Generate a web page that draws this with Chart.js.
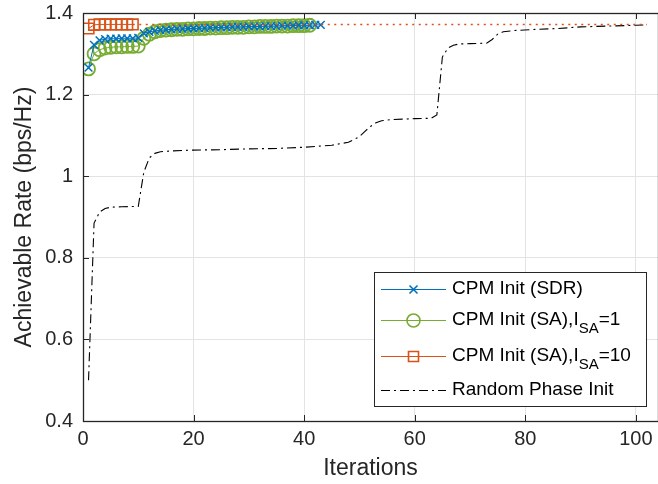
<!DOCTYPE html>
<html>
<head>
<meta charset="utf-8">
<script src="https://cdn.jsdelivr.net/npm/chart.js@4.4.1/dist/chart.umd.min.js"></script>
<style>
  html, body { margin: 0; padding: 0; background: #fff; }
  canvas { display: block; }
</style>
</head>
<body>
<canvas id="rateChart" width="658" height="484"></canvas>
<script>
// achievable rate per iteration
const sdrRate = [1.266, 1.322, 1.333, 1.336, 1.337, 1.337, 1.338, 1.338, 1.338, 1.339,
  1.350, 1.354, 1.356, 1.358, 1.359, 1.360, 1.361, 1.361, 1.362, 1.362,
  1.363, 1.363, 1.364, 1.364, 1.365, 1.365, 1.366, 1.366, 1.366, 1.367,
  1.367, 1.367, 1.368, 1.368, 1.368, 1.369, 1.369, 1.369, 1.370, 1.370,
  1.370, 1.371, 1.371];
const sa1Rate = [1.263, 1.300, 1.310, 1.314, 1.316, 1.317, 1.317, 1.318, 1.318, 1.319,
  1.338, 1.348, 1.354, 1.357, 1.358, 1.359, 1.360, 1.360, 1.361, 1.361,
  1.362, 1.362, 1.363, 1.363, 1.364, 1.364, 1.365, 1.365, 1.365, 1.366,
  1.366, 1.367, 1.367, 1.367, 1.368, 1.368, 1.368, 1.369, 1.369, 1.369,
  1.370];
const sa10Rate = [1.362, 1.371, 1.372, 1.372, 1.372, 1.372, 1.372, 1.372, 1.372];
const sa10LimitIter = [9, 102];
const sa10LimitRate = [1.372, 1.372];
const randomIter = [1, 2, 3, 4, 5, 7, 10, 11, 12, 13, 14, 16, 20, 25, 30, 35, 40, 45, 48, 50,
  51, 52, 53, 54, 56, 60, 63, 64, 65, 66, 67, 68, 70, 73, 74, 75, 76, 78, 82, 86,
  90, 95, 100, 102];
const randomRate = [0.500, 0.885, 0.912, 0.921, 0.924, 0.925, 0.926, 1.010, 1.045, 1.056,
  1.060, 1.062, 1.064, 1.065, 1.067, 1.068, 1.071, 1.076, 1.083, 1.097,
  1.110, 1.122, 1.131, 1.136, 1.139, 1.141, 1.142, 1.150, 1.292, 1.314,
  1.321, 1.324, 1.325, 1.326, 1.335, 1.348, 1.354, 1.357, 1.360, 1.362,
  1.366, 1.368, 1.370, 1.371];
const xTicks = [0, 20, 40, 60, 80, 100];
const yTicks = [0.4, 0.6, 0.8, 1, 1.2, 1.4];

const legendLabels = [
  ['CPM Init (SDR)'],
  ['CPM Init (SA),I', 'SA', '=1'],
  ['CPM Init (SA),I', 'SA', '=10'],
  ['Random Phase Init']
];

const BLUE = '#0072BD', GREEN = '#77AC30', RED = '#D95319';
const FONT = "'Liberation Sans', Arial, Helvetica, sans-serif";

const byIteration = rates => rates.map((r, i) => ({ x: i + 1, y: r }));
const pairUp = (xs, ys) => ys.map((r, i) => ({ x: xs[i], y: r }));

// inward ticks + box, like a matlab axes
const axisFrame = {
  id: 'axisFrame',
  afterDatasetsDraw(chart) {
    const { ctx, chartArea: a, scales: { x, y } } = chart;
    ctx.save();
    ctx.strokeStyle = '#262626';
    ctx.lineWidth = 1;
    ctx.beginPath();
    xTicks.forEach(v => {
      const px = Math.round(x.getPixelForValue(v)) + 0.5;
      ctx.moveTo(px, a.bottom); ctx.lineTo(px, a.bottom - 6);
      ctx.moveTo(px, a.top); ctx.lineTo(px, a.top + 6);
    });
    yTicks.forEach(v => {
      const py = Math.round(y.getPixelForValue(v)) + 0.5;
      ctx.moveTo(a.left, py); ctx.lineTo(a.left + 6, py);
    });
    ctx.stroke();
    ctx.lineWidth = 1.3;
    ctx.strokeRect(a.left + 0.5, a.top + 0.5, a.right - a.left, a.bottom - a.top);
    ctx.restore();
  }
};

function drawMarker(ctx, kind, cx, cy) {
  ctx.beginPath();
  if (kind === 'cross') {
    ctx.moveTo(cx - 4, cy - 4); ctx.lineTo(cx + 4, cy + 4);
    ctx.moveTo(cx - 4, cy + 4); ctx.lineTo(cx + 4, cy - 4);
  } else if (kind === 'circle') {
    ctx.arc(cx, cy, 6.5, 0, Math.PI * 2);
  } else if (kind === 'square') {
    ctx.rect(cx - 5, cy - 5, 10, 10);
  }
  ctx.stroke();
}

const matlabLegend = {
  id: 'matlabLegend',
  afterDraw(chart) {
    const ctx = chart.ctx;
    const box = { x: 374.5, y: 272.5, w: 272, h: 134 };
    const rows = [289, 320, 356, 390];
    const styles = [
      { color: BLUE, dash: [], marker: 'cross' },
      { color: GREEN, dash: [], marker: 'circle' },
      { color: RED, dash: [], marker: 'square' },
      { color: '#000', dash: [9, 4, 2, 4], marker: null }
    ];
    ctx.save();
    ctx.fillStyle = '#fff';
    ctx.fillRect(box.x, box.y, box.w, box.h);
    ctx.strokeStyle = '#262626';
    ctx.lineWidth = 1;
    ctx.strokeRect(box.x, box.y, box.w, box.h);

    legendLabels.forEach((parts, i) => {
      const yy = rows[i];
      const st = styles[i];
      ctx.strokeStyle = st.color;
      ctx.lineWidth = 1.2;
      ctx.setLineDash(st.dash);
      ctx.beginPath();
      ctx.moveTo(381, yy + 0.5); ctx.lineTo(446, yy + 0.5);
      ctx.stroke();
      ctx.setLineDash([]);
      ctx.lineWidth = 1.6;
      if (st.marker) drawMarker(ctx, st.marker, 413.5, yy + 0.5);

      ctx.fillStyle = '#000';
      ctx.textBaseline = 'middle';
      ctx.textAlign = 'left';
      let tx = 452;
      ctx.font = '19px ' + FONT;
      ctx.fillText(parts[0], tx, yy);
      tx += ctx.measureText(parts[0]).width;
      if (parts.length > 1) {
        ctx.font = '15px ' + FONT;
        ctx.fillText(parts[1], tx, yy + 9);
        tx += ctx.measureText(parts[1]).width;
        ctx.font = '19px ' + FONT;
        ctx.fillText(parts[2], tx, yy);
      }
    });
    ctx.restore();
  }
};

const noPadding = axis => {
  axis.paddingLeft = 0; axis.paddingRight = 0;
  axis.paddingTop = 0; axis.paddingBottom = 0;
};

new Chart(document.getElementById('rateChart'), {
  type: 'line',
  data: {
    datasets: [
      {
        label: 'CPM Init (SA), I_SA=10 limit',
        data: pairUp(sa10LimitIter, sa10LimitRate),
        borderColor: RED, borderWidth: 1.5, borderDash: [2, 4.5],
        pointRadius: 0
      },
      {
        label: 'CPM Init (SDR)',
        data: byIteration(sdrRate),
        borderColor: BLUE, borderWidth: 1,
        pointStyle: 'crossRot', pointRadius: 5.5, pointBorderWidth: 1.5,
        pointBorderColor: BLUE, pointBackgroundColor: BLUE
      },
      {
        label: 'CPM Init (SA), I_SA=1',
        data: byIteration(sa1Rate),
        borderColor: GREEN, borderWidth: 1,
        pointStyle: 'circle', pointRadius: 6.5, pointBorderWidth: 1.8,
        pointBorderColor: GREEN, pointBackgroundColor: 'rgba(0,0,0,0)'
      },
      {
        label: 'CPM Init (SA), I_SA=10',
        data: byIteration(sa10Rate),
        borderColor: RED, borderWidth: 1,
        pointStyle: 'rect', pointRadius: 7.5, pointBorderWidth: 1.6,
        pointBorderColor: RED, pointBackgroundColor: 'rgba(0,0,0,0)'
      },
      {
        label: 'Random Phase Init',
        data: pairUp(randomIter, randomRate),
        borderColor: '#000', borderWidth: 1.1, borderDash: [9, 4, 2, 4],
        pointRadius: 0
      }
    ]
  },
  options: {
    responsive: false,
    animation: false,
    layout: { autoPadding: false, padding: { top: 13, right: 0, left: 0, bottom: 0 } },
    scales: {
      x: {
        type: 'linear', min: 0, max: 104,
        afterBuildTicks: axis => { axis.ticks = xTicks.map(v => ({ value: v })); },
        afterFit: axis => { axis.height = 63; noPadding(axis); },
        ticks: { color: '#262626', font: { family: FONT, size: 20 }, padding: 6, maxRotation: 0 },
        grid: { color: '#e3e3e3', drawTicks: false },
        border: { display: false },
        title: { display: true, text: 'Iterations', color: '#262626',
          font: { family: FONT, size: 23 }, padding: { top: 0, bottom: 2 } }
      },
      y: {
        type: 'linear', min: 0.4, max: 1.4,
        afterBuildTicks: axis => { axis.ticks = yTicks.map(v => ({ value: v })); },
        afterFit: axis => { axis.width = 83; noPadding(axis); },
        ticks: { color: '#262626', font: { family: FONT, size: 20 }, padding: 10,
          callback: v => String(+v.toFixed(1)) },
        grid: { color: '#e3e3e3', drawTicks: false },
        border: { display: false },
        title: { display: true, text: 'Achievable Rate (bps/Hz)', color: '#262626',
          font: { family: FONT, size: 23 }, padding: { top: 11, bottom: 0 } }
      }
    },
    plugins: {
      legend: { display: false },
      tooltip: { enabled: false }
    }
  },
  plugins: [axisFrame, matlabLegend]
});
</script>
</body>
</html>
